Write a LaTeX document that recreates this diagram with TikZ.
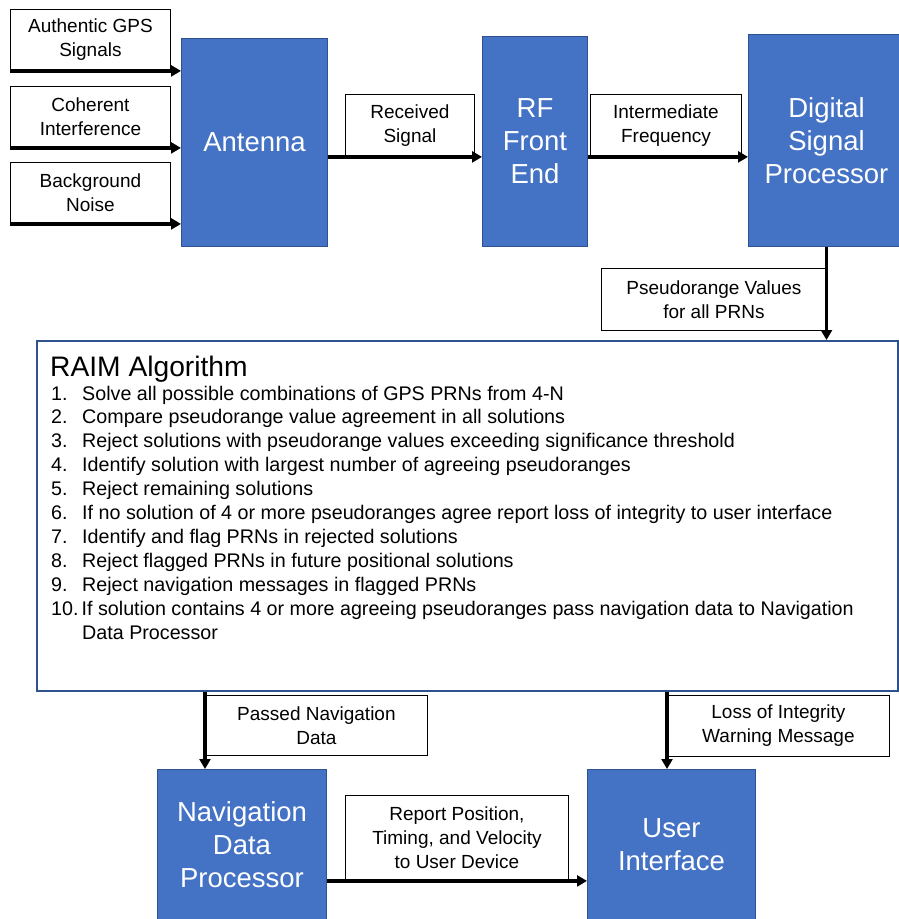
\documentclass[tikz,border=0pt]{standalone}
\usepackage{fontspec}
\setmainfont{Liberation Sans}
\usetikzlibrary{arrows.meta}
\definecolor{boxblue}{HTML}{4472C4}
\definecolor{boxedge}{HTML}{2F528F}
\begin{document}
\begin{tikzpicture}[x=1pt,y=-1pt,
  blk/.style={draw=boxedge, line width=1pt, fill=boxblue, text=white,
    font=\fontsize{27.5}{33}\selectfont, align=center, inner sep=0pt, anchor=north west},
  lbl/.style={draw=black, line width=0.9pt, fill=white,
    font=\fontsize{19}{24}\selectfont, align=center, inner sep=0pt, anchor=north west},
  raimbox/.style={draw=boxedge, line width=1.5pt, fill=white, inner sep=0pt, anchor=north west},
  arr/.style={line width=3.2pt, -{Triangle[length=10pt,width=11pt]}}]
\useasboundingbox (0,0) rectangle (899,919);
\clip (0,0) rectangle (899,919);

% blue blocks
\node[blk, minimum width=146pt, minimum height=208pt] (ant) at (181,38) {Antenna};
\node[blk, minimum width=105pt, minimum height=210pt] (rf) at (482,36) {RF\\Front\\End};
\node[blk, minimum width=156pt, minimum height=212pt] (dsp) at (748,34) {Digital\\Signal\\Processor};
\node[blk, minimum width=169pt, minimum height=150pt] (nav) at (157,769) {Navigation\\Data\\Processor};
\node[blk, minimum width=168pt, minimum height=150pt] (ui) at (587,769) {User\\Interface};

% RAIM box
\node[raimbox, minimum width=861pt, minimum height=350pt] (raim) at (36,340) {};
\node[anchor=base west, inner sep=0pt, font=\fontsize{28.2}{32}\selectfont] (raimtitle) at (50,376) {RAIM Algorithm};
\node[anchor=base west, inner sep=0pt, font=\fontsize{19.7}{23.9}\selectfont] (raimlist) at (51,400) {%
\begin{tabular}[t]{@{}l@{}}
\makebox[31pt][l]{1.}Solve all possible combinations of GPS PRNs from 4-N\\
\makebox[31pt][l]{2.}Compare pseudorange value agreement in all solutions\\
\makebox[31pt][l]{3.}Reject solutions with pseudorange values exceeding significance threshold\\
\makebox[31pt][l]{4.}Identify solution with largest number of agreeing pseudoranges\\
\makebox[31pt][l]{5.}Reject remaining solutions\\
\makebox[31pt][l]{6.}If no solution of 4 or more pseudoranges agree report loss of integrity to user interface\\
\makebox[31pt][l]{7.}Identify and flag PRNs in rejected solutions\\
\makebox[31pt][l]{8.}Reject flagged PRNs in future positional solutions\\
\makebox[31pt][l]{9.}Reject navigation messages in flagged PRNs\\
\makebox[30.5pt][l]{10.}If solution contains 4 or more agreeing pseudoranges pass navigation data to Navigation\\
\makebox[31pt][l]{}Data Processor
\end{tabular}};

% label boxes
\node[lbl, minimum width=160pt, minimum height=61pt] (auth) at (10,9) {Authentic GPS\\Signals};
\node[lbl, minimum width=160pt, minimum height=61pt] (coh) at (10,86) {Coherent\\Interference};
\node[lbl, minimum width=160pt, minimum height=61pt] (bg) at (10,162) {Background\\Noise};
\node[lbl, minimum width=129pt, minimum height=62pt] (recv) at (345,94) {Received\\Signal};
\node[lbl, minimum width=151pt, minimum height=62pt] (intf) at (590,94) {Intermediate\\Frequency};
\node[lbl, minimum width=225pt, minimum height=62pt] (pr) at (601,268) {Pseudorange Values\\for all PRNs};
\node[lbl, minimum width=222pt, minimum height=60pt] (passed) at (205,695) {Passed Navigation\\Data};
\node[lbl, minimum width=222pt, minimum height=61pt] (loss) at (667,695) {Loss of Integrity\\Warning Message};
\node[lbl, minimum width=223pt, minimum height=85pt] (report) at (345,795) {Report Position,\\Timing, and Velocity\\to User Device};

% arrows
\draw[arr] (auth.south west) -- (auth.south west -| ant.west);
\draw[arr] (coh.south west) -- (coh.south west -| ant.west);
\draw[arr] (bg.south west) -- (bg.south west -| ant.west);
\draw[arr] (recv.south -| ant.east) -- (recv.south -| rf.west);
\draw[arr] (intf.south -| rf.east) -- (intf.south -| dsp.west);
\draw[arr] (dsp.south) -- (dsp.south |- raim.north);
\draw[arr] (passed.west |- raim.south) -- (passed.west |- nav.north);
\draw[arr] (loss.west |- raim.south) -- (loss.west |- ui.north);
\draw[arr] (report.south -| nav.east) -- (report.south -| ui.west);
\end{tikzpicture}
\end{document}
